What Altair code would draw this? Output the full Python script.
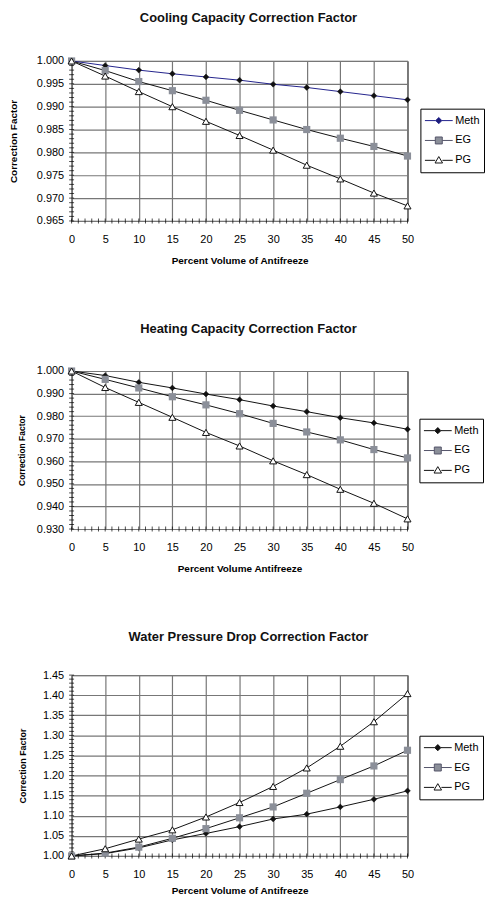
import altair as alt
import pandas as pd

FONT = "Liberation Sans"

# ---------------- data ----------------
pct = [0, 5, 10, 15, 20, 25, 30, 35, 40, 45, 50]
series = ["Meth", "EG", "PG"]

cool_meth = [1.000, 0.9990, 0.9980, 0.9972, 0.9965, 0.9958, 0.9949, 0.9942, 0.9933, 0.9924, 0.9915]
cool_eg = [1.000, 0.9979, 0.9955, 0.9935, 0.9914, 0.9892, 0.9871, 0.9850, 0.9831, 0.9813, 0.9792]
cool_pg = [1.000, 0.9967, 0.9933, 0.9900, 0.9868, 0.9837, 0.9805, 0.9772, 0.9742, 0.9711, 0.9683]

heat_meth = [1.000, 0.9980, 0.9950, 0.9925, 0.9898, 0.9873, 0.9845, 0.9820, 0.9793, 0.9770, 0.9742]
heat_eg = [1.000, 0.9963, 0.9925, 0.9886, 0.9850, 0.9811, 0.9768, 0.9730, 0.9695, 0.9652, 0.9615]
heat_pg = [1.000, 0.9927, 0.9861, 0.9795, 0.9728, 0.9668, 0.9602, 0.9541, 0.9476, 0.9414, 0.9345]

wpd_meth = [1.000, 1.006, 1.020, 1.040, 1.056, 1.073, 1.092, 1.104, 1.122, 1.141, 1.162]
wpd_eg = [1.000, 1.007, 1.022, 1.044, 1.068, 1.095, 1.122, 1.156, 1.190, 1.224, 1.263]
wpd_pg = [1.000, 1.018, 1.042, 1.065, 1.097, 1.133, 1.173, 1.219, 1.273, 1.334, 1.404]

x_ticks = [0, 5, 10, 15, 20, 25, 30, 35, 40, 45, 50]
x_minor = list(range(0, 51))

cool_ticks = [0.965, 0.970, 0.975, 0.980, 0.985, 0.990, 0.995, 1.000]
cool_minor = [round(0.965 + i * 0.001, 3) for i in range(36)]
heat_ticks = [0.930, 0.940, 0.950, 0.960, 0.970, 0.980, 0.990, 1.000]
heat_minor = [round(0.930 + i * 0.002, 3) for i in range(36)]
wpd_ticks = [1.00, 1.05, 1.10, 1.15, 1.20, 1.25, 1.30, 1.35, 1.40, 1.45]
wpd_minor = [round(1.00 + i * 0.01, 2) for i in range(46)]

# legend symbols: line with marker (custom paths in unit space)
legend_paths = [
    "M-1,0H-0.22M0.22,0H1M0,-0.22L0.22,0L0,0.22L-0.22,0Z",
    "M-1,0H-0.25M0.25,0H1M-0.25,-0.25H0.25V0.25H-0.25Z",
    "M-1,0H-0.26M0.26,0H1M0,-0.27L0.27,0.19H-0.27Z",
]
EG_FILL = "#8b8f99"


def make_chart(title, xtitle, meth, eg, pg, ydom, yticks, yminor, yfmt,
               width, height, legx, legy, meth_line, meth_leg,
               ytitle_x, ytitle_size, title_offset, x_titlepad):
    rows = []
    for s, vals in zip(series, [meth, eg, pg]):
        for p, v in zip(pct, vals):
            rows.append({"pct": p, "value": v, "series": s})
    df = pd.DataFrame(rows)

    xscale = alt.Scale(domain=[0, 50], nice=False, zero=False)
    yscale = alt.Scale(domain=ydom, nice=False, zero=False)

    xaxis = alt.Axis(values=x_ticks, title=xtitle, grid=True, gridColor="#777777",
                     gridWidth=1.2, ticks=False, domain=False, labelFont=FONT,
                     labelFontSize=11, labelColor="black", labelPadding=12.5,
                     titleFont=FONT, titleFontSize=10, titleFontWeight="bold",
                     titleColor="black", titlePadding=x_titlepad, labelFlush=False)
    yaxis = alt.Axis(values=yticks, format=yfmt, grid=True, gridColor="#777777",
                     gridWidth=1.2, ticks=False, domain=False, labelFont=FONT,
                     labelFontSize=11, labelColor="black", labelPadding=8,
                     title="Correction Factor", titleFont=FONT, titleFontSize=ytitle_size,
                     titleFontWeight="bold", titleColor="black",
                     titleX=ytitle_x, titleBaseline="bottom", labelFlush=False)

    xenc = alt.X("pct:Q", scale=xscale, axis=xaxis)
    yenc = alt.Y("value:Q", scale=yscale, axis=yaxis)

    minor_x = alt.Chart(pd.DataFrame({"pct": x_minor})).mark_tick(
        orient="vertical", size=5, thickness=1, color="black"
    ).encode(x=xenc, y=alt.YDatum(ydom[0], scale=yscale, axis=yaxis))

    minor_y = alt.Chart(pd.DataFrame({"value": yminor})).mark_tick(
        orient="horizontal", size=5, thickness=1, color="black"
    ).encode(y=yenc, x=alt.XDatum(0, scale=xscale, axis=xaxis))

    base = alt.Chart(df)
    lines = base.mark_line(strokeWidth=1).encode(
        x=xenc, y=yenc,
        color=alt.Color("series:N", scale=alt.Scale(domain=series, range=[meth_line, "#111111", "#111111"]),
                        legend=None),
    )
    p_meth = base.transform_filter(alt.datum.series == "Meth").mark_point(
        shape="diamond", filled=True, fill="#111111", stroke="#111111", strokeWidth=0.5, size=34, opacity=1
    ).encode(x=xenc, y=yenc)
    p_eg = base.transform_filter(alt.datum.series == "EG").mark_point(
        shape="square", filled=True, fill=EG_FILL, strokeWidth=0, size=52, opacity=1
    ).encode(x=xenc, y=yenc)
    p_pg = base.transform_filter(alt.datum.series == "PG").mark_point(
        shape="triangle-up", filled=False, fill="white", stroke="#111111", strokeWidth=1, size=50, opacity=1
    ).encode(x=xenc, y=yenc)

    leg = alt.Legend(orient="none", legendX=legx, legendY=legy, title=None,
                     strokeColor="black", fillColor="white", padding=4,
                     symbolSize=784, clipHeight=16, rowPadding=4,
                     labelFont=FONT, labelFontSize=11, labelColor="black",
                     labelOffset=2, symbolStrokeWidth=1, symbolOpacity=1)
    legend_layer = base.transform_filter("false").mark_point(opacity=1, strokeWidth=1).encode(
        x=xenc, y=yenc,
        shape=alt.Shape("series:N", scale=alt.Scale(domain=series, range=legend_paths), legend=leg),
        fill=alt.Fill("series:N", scale=alt.Scale(domain=series, range=[meth_leg, EG_FILL, "white"]), legend=leg),
        stroke=alt.Stroke("series:N", scale=alt.Scale(domain=series, range=[meth_line, "#55556a", "#111111"]), legend=leg),
    )

    return alt.layer(minor_x, minor_y, lines, p_meth, p_eg, p_pg, legend_layer).properties(
        width=width, height=height,
        title=alt.TitleParams(text=title, font=FONT, fontSize=13, fontWeight="bold",
                              color="#111111", anchor="middle", dx=9, offset=title_offset),
    ).resolve_scale(shape="independent", fill="independent", stroke="independent", color="independent")


c1 = make_chart("Cooling Capacity Correction Factor", "Percent Volume of Antifreeze",
                cool_meth, cool_eg, cool_pg, [0.965, 1.0], cool_ticks, cool_minor, ".3f",
                338, 161, 351, 48, "#23238c", "#1c1c7a",
                -53.5, 10, 30, 11)
c2 = make_chart("Heating Capacity Correction Factor", "Percent Volume Antifreeze",
                heat_meth, heat_eg, heat_pg, [0.930, 1.0], heat_ticks, heat_minor, ".3f",
                338, 159, 350, 48, "#111111", "#111111",
                -45.7, 8.5, 29.5, 11)
c3 = make_chart("Water Pressure Drop Correction Factor", "Percent Volume of Antifreeze",
                wpd_meth, wpd_eg, wpd_pg, [1.0, 1.45], wpd_ticks, wpd_minor, ".2f",
                338, 182, 350, 61, "#111111", "#111111",
                -44.2, 9, 25, 6)

chart = alt.vconcat(c1, c2, c3, spacing=57).resolve_scale(
    x="independent", y="independent", color="independent", shape="independent",
    fill="independent", stroke="independent"
).resolve_legend(
    color="independent", shape="independent", fill="independent", stroke="independent"
).properties(
    padding={"left": 0, "top": 0.5, "right": 0, "bottom": 0},
    background="white",
).configure_view(stroke="black", strokeWidth=1)

chart.save("out.html", embed_options={"renderer": "svg", "actions": False})
